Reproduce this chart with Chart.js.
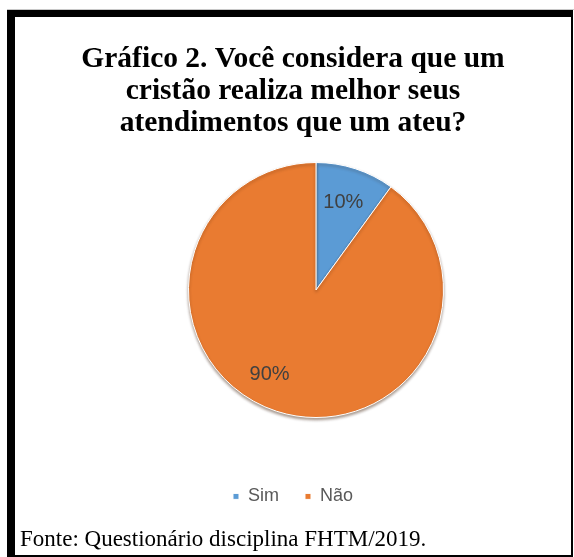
<!DOCTYPE html>
<html>
<head>
<meta charset="utf-8">
<script src="https://cdn.jsdelivr.net/npm/chart.js@4/dist/chart.umd.min.js"></script>
<style>
  html, body { margin: 0; padding: 0; background: #fff; }
  #page { position: relative; width: 574px; height: 557px; overflow: hidden; background: #fff; }
  #line { position: absolute; left: 7px; top: 9px; width: 567px; height: 1px; background: #c8c8c8; }
  #frame {
    position: absolute; left: 7px; top: 10px; width: 566px; height: 547px;
    box-sizing: border-box;
    border-left: 8px solid #000; border-top: 7px solid #000;
    border-right: 2px solid #000; border-bottom: 2px solid #000;
  }
  #grafico2 { position: absolute; left: 15px; top: 17px; }
</style>
</head>
<body>
<div id="page">
  <div id="line"></div>
  <div id="frame"></div>
  <canvas id="grafico2" width="556" height="538"></canvas>
</div>
<script>
// Gráfico 2 - cristão x ateu nos atendimentos

const categorias = ["Sim", "Não"];
const valores = [10, 90];
const rotulos = ["10%", "90%"];
const cores = ["#5B9BD5", "#E97B31"];

const tituloLinhas = [
  "Gráfico 2. Você considera que um",
  "cristão realiza melhor seus",
  "atendimentos que um ateu?"
];
const fonte = "Fonte: Questionário disciplina FHTM/2019.";

const PIE_R = 128;       // raio da pizza
const PIE_SHIFT = 46;    // pizza fica um pouco à direita do título

// posiciona a área da pizza
const areaPizza = {
  id: 'areaPizza',
  afterLayout(chart) {
    const a = chart.chartArea;
    a.left += PIE_SHIFT;
    a.bottom = a.top + 2 * PIE_R;
    a.width = a.right - a.left;
    a.height = a.bottom - a.top;
  }
};

// sombra leve embaixo da pizza
const sombra = {
  id: 'sombra',
  beforeDatasetsDraw(chart) {
    const ctx = chart.ctx;
    ctx.save();
    ctx.shadowColor = 'rgba(60,30,10,0.45)';
    ctx.shadowBlur = 3;
    ctx.shadowOffsetY = 2;
  },
  afterDatasetsDraw(chart) {
    chart.ctx.restore();
  }
};

// rótulos de porcentagem dentro das fatias
const ajustes = [[-1, 0], [-18, -3]];
const rotulosPizza = {
  id: 'rotulosPizza',
  afterDatasetsDraw(chart) {
    const ctx = chart.ctx;
    const meta = chart.getDatasetMeta(0);
    ctx.save();
    ctx.font = '20px "Liberation Sans", Arial, sans-serif';
    ctx.fillStyle = '#404040';
    ctx.textAlign = 'center';
    ctx.textBaseline = 'middle';
    meta.data.forEach((arc, i) => {
      const p = arc.getProps(['x', 'y', 'startAngle', 'endAngle', 'outerRadius']);
      const meio = (p.startAngle + p.endAngle) / 2;
      const d = p.outerRadius * 0.72;
      const x = p.x + Math.cos(meio) * d + ajustes[i][0];
      const y = p.y + Math.sin(meio) * d + ajustes[i][1];
      ctx.fillText(rotulos[i], x, y);
    });
    ctx.restore();
  }
};

new Chart(document.getElementById("grafico2"), {
  type: 'pie',
  data: {
    labels: categorias,
    datasets: [
      {
        label: "",
        backgroundColor: cores,
        borderColor: "#ffffff",
        borderWidth: 1,
        data: valores
      }
    ]
  },
  options: {
    responsive: false,
    animation: false,
    layout: { padding: { left: 5, right: 5 } },
    plugins: {
      tooltip: { enabled: false },
      title: {
        display: true,
        text: tituloLinhas,
        color: '#000',
        font: { family: '"Liberation Serif", "Times New Roman", serif', size: 29.5, weight: 'bold', lineHeight: '32px' },
        padding: { top: 26, bottom: 23 }
      },
      legend: {
        position: 'bottom',
        labels: {
          boxWidth: 6,
          boxHeight: 6,
          padding: 26,
          color: '#595959',
          font: { family: '"Liberation Sans", Arial, sans-serif', size: 18 }
        }
      },
      subtitle: {
        display: true,
        position: 'bottom',
        align: 'start',
        text: fonte,
        color: '#000',
        font: { family: '"Liberation Serif", "Times New Roman", serif', size: 23, weight: 'normal' },
        padding: { top: 11, bottom: 1 }
      }
    }
  },
  plugins: [areaPizza, sombra, rotulosPizza]
});
</script>
</body>
</html>
